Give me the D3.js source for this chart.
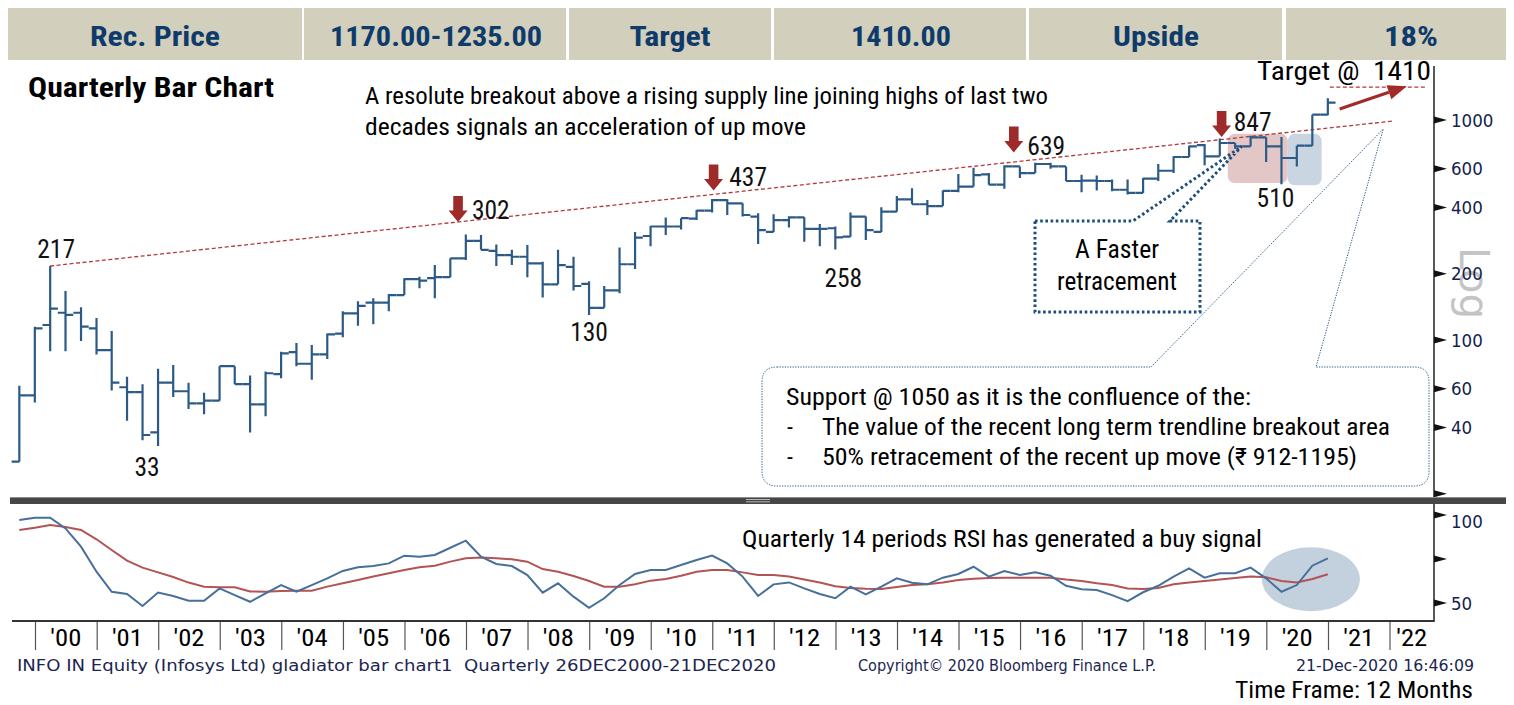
<!DOCTYPE html>
<html><head><meta charset="utf-8">
<script src="https://cdn.jsdelivr.net/npm/d3@7"></script>
<style>
html,body{margin:0;padding:0;background:#fff;}
svg{display:block;}
text{white-space:pre;}
</style></head><body>
<svg id="c" width="1514" height="705"></svg>
<script>
// ---------------- DATA ----------------
const quarters = (
 "1999Q3 1999Q4 " +
 "2000Q1 2000Q2 2000Q3 2000Q4 2001Q1 2001Q2 2001Q3 2001Q4 2002Q1 2002Q2 2002Q3 2002Q4 " +
 "2003Q1 2003Q2 2003Q3 2003Q4 2004Q1 2004Q2 2004Q3 2004Q4 2005Q1 2005Q2 2005Q3 2005Q4 " +
 "2006Q1 2006Q2 2006Q3 2006Q4 2007Q1 2007Q2 2007Q3 2007Q4 2008Q1 2008Q2 2008Q3 2008Q4 " +
 "2009Q1 2009Q2 2009Q3 2009Q4 2010Q1 2010Q2 2010Q3 2010Q4 2011Q1 2011Q2 2011Q3 2011Q4 " +
 "2012Q1 2012Q2 2012Q3 2012Q4 2013Q1 2013Q2 2013Q3 2013Q4 2014Q1 2014Q2 2014Q3 2014Q4 " +
 "2015Q1 2015Q2 2015Q3 2015Q4 2016Q1 2016Q2 2016Q3 2016Q4 2017Q1 2017Q2 2017Q3 2017Q4 " +
 "2018Q1 2018Q2 2018Q3 2018Q4 2019Q1 2019Q2 2019Q3 2019Q4 2020Q1 2020Q2 2020Q3 2020Q4").split(" ");

const opens  = [28,56,117,133,133,113,90,61,58,38,64,58.5,51.5,53,76,63,51,70,88,78,86,107,132,148,148,160,189,191,193,235,
  282,254,243,239,223,179,215,180,140,168,221,297,328,328,356,387,432,418,364,310,351,361,320,322,295,364,310,383,436,414,
  406,476,498,566,508,615,574,631,615,528,530,528,482,466,541,588,679,768,684,786,759,834,759,672,764,1057];
const highs  = [62,115,217,167,141,126,110,68,63,74,77,64,57.6,76,76,69,72,88.5,97,95,107,135,150,155,162,191,194,219,235,302,
  300,272,257,270,227,257,239,185,176,263,310,330,360,358,390,437,436,418,377,373,365,361,337,328,380,364,401,451,489,433,
  478,568,607,574,622,615,639,640,615,564,560,536,536,545,631,684,764,778,825,786,847,834,837,764,1057,1255];
const lows   = [28,52,89,89,99,86,59,43,35,33,55,48.6,46,53,63,38,45,67,76,66,82,103,116,118,135,160,172,155,193,231,
  257,217,219,193,156,179,168,130,140,163,210,267,300,318,351,380,370,364,273,310,325,280,267,258,295,285,310,383,414,370,
  406,470,498,508,487,545,574,600,528,469,478,474,458,466,528,574,679,622,684,741,759,644,510,615,764,1050];
const closes = [56,113,139,130,115,90,64,58,37,64,58.5,51.5,53,76,63,51,70.6,87,78,86,106,132,143,148,160,189,186,193,235,282,
  257,243,239,223,179,219,176,140,168,221,292,328,328,358,387,432,418,370,316,351,361,320,320,293,364,316,383,436,414,406,
  476,498,562,508,615,574,631,615,528,530,528,482,466,541,588,679,759,684,786,759,834,759,672,764,1057,1200];

const rsi14 = [97.2,98.5,98.5,92.4,82,67.8,56.4,55.1,48.3,55.9,54,51.3,51.3,58.3,54.5,50.7,55.5,60.2,56.4,60.2,
  64,68.2,70.3,71,72.5,76.9,76.3,77.3,81.4,85.4,76.3,72.2,71,65.9,55.9,61.2,53.6,47.3,52.7,60.2,
  66.5,68.8,68.8,71.6,74.4,76.9,72.5,65,54,60.6,61.7,58.3,55.1,52.7,59.3,54.9,59.3,64,61.5,60.6,
  64.4,66.5,70.6,65,68.2,65.9,67.4,65.5,59.8,57.8,57.4,54.5,51.1,56.1,59.8,65,69.7,64.4,66.9,66.9,
  70.1,64,56.4,60.2,71.2,75.4];
const rsiSignal = [91.5,92.8,94.3,93.2,91.5,86.2,80.1,74.1,70.1,67.4,64.8,61.6,59.3,58.9,58.9,56.6,56.4,56.8,57,57,
  59.3,61.2,63.1,65,66.9,68.75,70.3,71.2,73.5,75.4,75.8,75.4,74.8,73.5,69.3,67.8,65.3,62.5,59.3,59.3,
  60.6,62.7,63.6,65.5,67.8,68.75,68.75,67.4,65.9,65.9,65,63.4,61.6,59.5,58.5,58.1,58,59.1,60.2,60.6,
  61.7,63.1,63.8,64.2,64.4,64.4,64.4,64.4,63.3,62.5,61.2,60.2,58.3,58,58.5,60.6,61.6,62.5,63.3,64.2,
  65,64.6,62.5,61.7,63.6,66.3];

const yearLabels = ["'00","'01","'02","'03","'04","'05","'06","'07","'08","'09","'10","'11",
  "'12","'13","'14","'15","'16","'17","'18","'19","'20","'21","'22"];
const priceTicks = [20,40,60,100,200,400,600,1000];
const priceTickLabels = ["","40","60","100","200","400","600","1000"];
const rsiTicks = [50,75,100];
const rsiTickLabels = ["50","","100"];

const headerLabels = ["Rec. Price","1170.00-1235.00","Target","1410.00","Upside","18%"];
const peakBars = [2,29,45,66,80];
const peakValues = [217,302,437,639,847];
const troughBars = [9,37,53,82];
const troughValues = [33,130,258,510];
const trendStartBar = 2, trendStartValue = 217;
const trendEndDate = new Date(2022,0,26), trendEndValue = 990;
const targetValue = 1410;

// ---------------- LAYOUT ----------------
const NARROW = "'Liberation Sans Narrow','Roboto Condensed','Arial Narrow','Liberation Sans',Arial,sans-serif";
const DEJA = "'DejaVu Sans',Verdana,sans-serif";
const svg = d3.select('#c');
const X0 = 12, X1 = 1434;

const x = d3.scaleTime().domain([new Date(2000,0,1), new Date(2021,0,1)]).range([35, 1328]);
const yP = d3.scaleLog().domain([100, 1000]).range([340, 120]);
const yR = d3.scaleLinear().domain([50, 100]).range([603, 515]);

const dates = quarters.map(q => new Date(+q.slice(0,4), +q.slice(5)*3, 0));
const xi = d3.scaleLinear().domain([0, dates.length-1]).range([x(dates[0]), x(dates[dates.length-1])]);
const tw = (x(new Date(2001,0,1)) - x(new Date(2000,0,1))) / 8;

function T(parent, s, px, py, o = {}) {
  const t = parent.append('text').attr('x', px).attr('y', py).text(s)
    .attr('font-family', o.ff || NARROW).attr('font-size', o.fs || 24)
    .attr('fill', o.fill || '#000').attr('text-anchor', o.anchor || 'start')
    .attr('xml:space', 'preserve');
  if (o.fw) t.attr('font-weight', o.fw);
  if (o.w) t.attr('textLength', o.w).attr('lengthAdjust', 'spacingAndGlyphs');
  if (o.tr) t.attr('transform', o.tr);
  return t;
}

// ---------------- HEADER ----------------
const cells = [[8,302],[304,566],[569,771],[774,1026],[1029,1282],[1286,1506]];
const hdrCx = [155,436,670,901,1156,1411];
const hdrW = [130,212,81,100,86,54];
const hdr = svg.append('g');
cells.forEach((c,i) => {
  hdr.append('rect').attr('x', c[0]).attr('y', 8).attr('width', c[1]-c[0]).attr('height', 52).attr('fill', '#d2cfbc');
  T(hdr, headerLabels[i], hdrCx[i], 46, {fs: 28, fw: 'bold', fill: '#0f3b6b', anchor: 'middle', w: hdrW[i]});
});

// ---------------- TITLES ----------------
T(svg, 'Quarterly Bar Chart', 28, 97, {fs: 28, fw: 'bold', w: 246});
T(svg, 'A resolute breakout above a rising supply line joining highs of last two', 365, 104, {fs: 24, w: 683});
T(svg, 'decades signals an acceleration of up move', 365, 135, {fs: 24, w: 441});

// ---------------- PRICE PANEL ----------------
const pp = svg.append('g');
pp.append('rect').attr('x', xi(78.5)).attr('y', yP(865)).attr('width', xi(82.4)-xi(78.5)).attr('height', yP(517)-yP(865))
  .attr('rx', 7).attr('fill', '#e3c6c6');
pp.append('rect').attr('x', xi(82.4)).attr('y', yP(865)).attr('width', xi(84.6)-xi(82.4)).attr('height', yP(505)-yP(865))
  .attr('rx', 7).attr('fill', '#c9d5e1');

pp.append('line').attr('x1', x(dates[trendStartBar])).attr('y1', yP(trendStartValue))
  .attr('x2', x(trendEndDate)).attr('y2', yP(trendEndValue))
  .attr('stroke', '#b23a3a').attr('stroke-width', 1.3).attr('stroke-dasharray', '4,2.5');
pp.append('line').attr('x1', x(new Date(2021,0,12))).attr('x2', x(new Date(2022,7,10)))
  .attr('y1', yP(targetValue)).attr('y2', yP(targetValue))
  .attr('stroke', '#b23a3a').attr('stroke-width', 1.2).attr('stroke-dasharray', '4,2.5');
const ax1 = x(new Date(2021,2,11)), ay1 = yP(1122), ax2 = x(new Date(2022,3,14)), ay2 = yP(1425);
const ang = Math.atan2(ay2-ay1, ax2-ax1);
const hl = 19, hw = 7.5;
const bx = ax2 - hl*Math.cos(ang), by = ay2 - hl*Math.sin(ang);
pp.append('line').attr('x1', ax1).attr('y1', ay1).attr('x2', bx).attr('y2', by)
  .attr('stroke', '#a42a2a').attr('stroke-width', 3);
pp.append('path').attr('d', `M${ax2},${ay2}L${bx - hw*Math.sin(ang)},${by + hw*Math.cos(ang)}L${bx + hw*Math.sin(ang)},${by - hw*Math.cos(ang)}Z`)
  .attr('fill', '#a42a2a');
T(pp, 'Target @\u00A0\u00A01410', 1257, 80, {fs: 25, w: 174});

// OHLC bars
pp.append('g').selectAll('path').data(quarters).join('path')
  .attr('d', (q,i) => {
    const cx = x(dates[i]);
    return `M${cx},${yP(lows[i])}V${yP(highs[i])}M${cx-tw},${yP(opens[i])}H${cx}M${cx},${yP(closes[i])}H${cx+tw}`;
  })
  .attr('fill', 'none').attr('stroke', '#2c5a87').attr('stroke-width', 2.2);

const arrowAt = [[28.5,344],[45.1,478],[64.6,712],[78.1,838]];
arrowAt.forEach(a => {
  const cx = xi(a[0]), ty = yP(a[1]);
  pp.append('path').attr('d', `M${cx},${ty}L${cx-9.5},${ty-11.5}L${cx-4.8},${ty-11.5}L${cx-4.8},${ty-26}L${cx+4.8},${ty-26}L${cx+4.8},${ty-11.5}L${cx+9.5},${ty-11.5}Z`)
    .attr('fill', '#9e2a2a');
});
const peakOff = [[6,-8],[25,-15],[36,-13],[11,-8],[2,-5]];
peakBars.forEach((b,i) => T(pp, String(peakValues[i]), x(dates[b]) + peakOff[i][0], yP(peakValues[i]) + peakOff[i][1],
  {fs: 25, anchor: 'middle', w: String(peakValues[i]).length*12.6, fill: '#111'}));
const troughOff = [[-11,30],[0,26],[8,38],[-6,23]];
troughBars.forEach((b,i) => T(pp, String(troughValues[i]), x(dates[b]) + troughOff[i][0], yP(troughValues[i]) + troughOff[i][1],
  {fs: 25, anchor: 'middle', w: String(troughValues[i]).length*12.6, fill: '#111'}));

const apexA = [xi(79.4), yP(758)];
pp.append('path').attr('d', `M1035,221H1133L${apexA[0]},${apexA[1]}L1170,221H1200V312H1035Z`)
  .attr('fill', 'none').attr('stroke', '#1d4f7e').attr('stroke-width', 3).attr('stroke-dasharray', '2.6,2.6');
T(pp, 'A Faster', 1117, 258, {fs: 25, anchor: 'middle', w: 84});
T(pp, 'retracement', 1117, 290, {fs: 25, anchor: 'middle', w: 120});

const apexS = [x(new Date(2021,10,25)), yP(910)];
const L = 762, R = 1429, TOP = 367, BOT = 486, r = 15;
pp.append('path').attr('d',
  `M${L+r},${TOP}H1151L${apexS[0]},${apexS[1]}L1316,${TOP}H${R-r}Q${R},${TOP} ${R},${TOP+r}V${BOT-r}Q${R},${BOT} ${R-r},${BOT}H${L+r}Q${L},${BOT} ${L},${BOT-r}V${TOP+r}Q${L},${TOP} ${L+r},${TOP}Z`)
  .attr('fill', 'none').attr('stroke', '#2a5d8c').attr('stroke-width', 1).attr('stroke-dasharray', '1.3,1.3');
T(pp, 'Support @ 1050 as it is the confluence of the:', 786, 405, {fs: 24, w: 465});
T(pp, '-', 787, 435, {fs: 24});
T(pp, 'The value of the recent long term trendline breakout area', 822, 435, {fs: 24, w: 568});
T(pp, '-', 787, 465, {fs: 24});
T(pp, '50% retracement of the recent up move (\u20B9 912-1195)', 822, 465, {fs: 24, w: 535});

T(svg, 'Log', 0, 0, {fs: 40, fill: '#c4c4c4', ff: DEJA, w: 72, tr: 'translate(1460,247) rotate(90)'});

const ax = svg.append('g');
ax.append('line').attr('x1', X1).attr('x2', X1).attr('y1', 66).attr('y2', 497).attr('stroke', '#222').attr('stroke-width', 1.5);
priceTicks.forEach((v,i) => {
  const ty = yP(v);
  ax.append('path').attr('d', `M${X1},${ty-3.5}L${X1+13},${ty}L${X1},${ty+3.5}Z`).attr('fill', '#111');
  const s = priceTickLabels[i];
  if (s) T(ax, s, X1+17, ty+6.5, {fs: 18, ff: DEJA, fill: '#13224a', w: s.length*10.6});
});

// ---------------- SEPARATOR ----------------
svg.append('rect').attr('x', 10).attr('y', 497).attr('width', 1496).attr('height', 7).attr('fill', '#474747');
svg.append('line').attr('x1', 10).attr('x2', 1506).attr('y1', 497.5).attr('y2', 497.5).attr('stroke', '#8a8a8a');
[499.5, 501.8].forEach(yy => svg.append('line').attr('x1', 746).attr('x2', 770).attr('y1', yy).attr('y2', yy)
  .attr('stroke', '#b5b5b5').attr('stroke-width', 1));

// ---------------- RSI PANEL ----------------
const rp = svg.append('g');
rp.append('ellipse').attr('cx', xi(83.9)).attr('cy', yR(63.5)).attr('rx', 49).attr('ry', 32).attr('fill', '#c3d0de');
const line = d3.line().x((d,i) => x(dates[i])).y(d => yR(d));
rp.append('path').datum(rsiSignal).attr('d', line).attr('fill', 'none').attr('stroke', '#b35353').attr('stroke-width', 2);
rp.append('path').datum(rsi14).attr('d', line).attr('fill', 'none').attr('stroke', '#46709a').attr('stroke-width', 2);
T(rp, 'Quarterly 14 periods RSI has generated a buy signal', 742, 547, {fs: 24, w: 520});

rp.append('line').attr('x1', X1).attr('x2', X1).attr('y1', 504).attr('y2', 622).attr('stroke', '#222').attr('stroke-width', 1.5);
rsiTicks.forEach((v,i) => {
  const ty = yR(v);
  rp.append('path').attr('d', `M${X1},${ty-3.5}L${X1+13},${ty}L${X1},${ty+3.5}Z`).attr('fill', '#111');
  const s = rsiTickLabels[i];
  if (s) T(rp, s, X1+17, ty + (v === 100 ? 12.5 : 6.5), {fs: 18, ff: DEJA, fill: '#13224a', w: s.length*10.6});
});

// ---------------- TIME AXIS ----------------
const years = d3.range(2000, 2023).map(yv => new Date(yv, 0, 1));
const xa = svg.append('g').attr('transform', 'translate(0,621)')
  .call(d3.axisBottom(x).tickValues(years).tickSize(29).tickFormat(''));
xa.select('.domain').remove();
xa.selectAll('.tick line').attr('stroke', '#555').attr('stroke-width', 1.2);
svg.append('line').attr('x1', X0).attr('x2', X1).attr('y1', 621).attr('y2', 621).attr('stroke', '#333').attr('stroke-width', 2);
yearLabels.forEach((lab, i) => {
  const y0 = 2000 + i;
  const a = x(new Date(y0,0,1)), b = Math.min(X1, x(new Date(y0+1,0,1)));
  T(svg, lab, (a+b)/2, 646, {fs: 24, anchor: 'middle', w: 31});
});

// ---------------- FOOTER ----------------
T(svg, 'INFO IN Equity (Infosys Ltd) gladiator bar chart1\u00A0\u00A0Quarterly 26DEC2000-21DEC2020', 17, 671,
  {fs: 16, ff: DEJA, fill: '#1c2552', w: 759});
T(svg, 'Copyright\u00A9 2020 Bloomberg Finance L.P.', 858, 671, {fs: 16, ff: DEJA, fill: '#1c2552', w: 298});
T(svg, '21-Dec-2020 16:46:09', 1296, 671, {fs: 16, ff: DEJA, fill: '#1c2552', w: 178});
T(svg, 'Time Frame: 12 Months', 1235, 698, {fs: 23, w: 238});
</script>
</body></html>
